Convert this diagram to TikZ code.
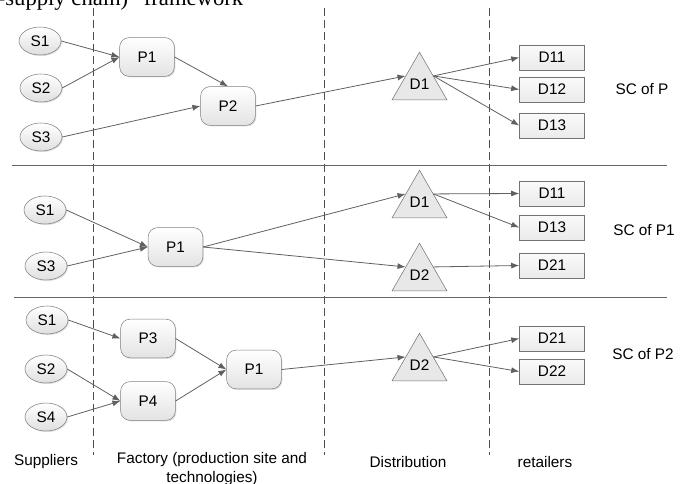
\documentclass[tikz,border=0pt]{standalone}
\usepackage{fontspec}
\setmainfont{Liberation Sans}
\newfontfamily\captionserif{Liberation Serif}
\usepackage{tikz}
\usetikzlibrary{arrows.meta,shapes.geometric,shadows}
\tikzset{
    line color/.style={gray!75!black},
    soft shadow/.style={drop shadow={shadow xshift=.8pt,shadow yshift=-.8pt,opacity=.25}},
    supplier/.style={ellipse,draw=gray,top color=white,bottom color=gray!25,soft shadow,minimum width=31.5pt,minimum height=21pt,inner sep=0pt},
    plant/.style={rectangle,rounded corners=7pt,draw=gray,top color=white,bottom color=gray!22,soft shadow,minimum width=41pt,minimum height=29pt,inner sep=0pt},
    depot/.style={regular polygon,regular polygon sides=3,draw=gray!90!black,fill=gray!18,minimum size=47.6pt,inner sep=0pt},
    retailer/.style={rectangle,draw=gray!90!black,top color=gray!4,bottom color=gray!16,minimum width=48.75pt,minimum height=18.75pt,inner sep=0pt},
    arr/.style={-{Latex[length=6pt,width=4.5pt]},line color,semithick},
    column line/.style={dashed,dash pattern=on 6pt off 3pt,gray!60!black,thin},
    band line/.style={gray!80!black,thin},
}
\tikzstyle{every node}=[font=\fontsize{11.5}{14}\selectfont]

\begin{document}
\begin{tikzpicture}[x=0.75pt,y=-0.75pt]
    \clip (0,0) rectangle (692,484);
    \node[anchor=base east,font=\captionserif\fontsize{17}{20}\selectfont] (caption) at (248,6) {-supply chain)” framework};

    % columns and bands
    \foreach \xc in {93,324,489} \draw[column line] (\xc,8) -- (\xc,455);
    \draw[band line] (12,165) -- (667,165);
    \draw[band line] (14,297) -- (667,297);

    % SC of P
    \node[supplier] (topS1) at (40,41) {S1};
    \node[supplier] (topS2) at (41,88) {S2};
    \node[supplier] (topS3) at (41,137) {S3};
    \node[plant] (topP1) at (147,57) {P1};
    \node[plant] (topP2) at (228,106) {P2};
    \node[depot] (topD1) at (419.5,84) {D1};
    \node[retailer] (topD11) at (552,57.5) {D11};
    \node[retailer] (topD12) at (552,89.5) {D12};
    \node[retailer] (topD13) at (552,125.5) {D13};
    \node (topSC) at (642,89) {SC of P};
    \draw[arr] (topS1.east) -- (topP1.west);
    \draw[arr] (topS2.east) -- (topP1.west);
    \draw[arr] (topS3.east) -- (topP2.west);
    \draw[arr] (topP1.east) -- (topP2.north);
    \draw[arr] (topP2.east) -- (topD1.side 1);
    \foreach \r in {topD11,topD12,topD13} \draw[arr] (topD1.side 3) -- (\r.west);

    % SC of P1
    \node[supplier] (midS1) at (45,210) {S1};
    \node[supplier] (midS3) at (46,266) {S3};
    \node[plant] (midP1) at (175.5,247) {P1};
    \node[depot] (midD1) at (419.5,202) {D1};
    \node[depot] (midD2) at (419.5,275) {D2};
    \node[retailer] (midD11) at (552,193.5) {D11};
    \node[retailer] (midD13) at (552,227.5) {D13};
    \node[retailer] (midD21) at (552,265.5) {D21};
    \node (midSC) at (644,230) {SC of P1};
    \draw[arr] (midS1.east) -- (midP1.west);
    \draw[arr] (midS3.east) -- (midP1.west);
    \draw[arr] (midP1.east) -- (midD1.side 1);
    \draw[arr] (midP1.east) -- (midD2.side 1);
    \draw[arr] (midD1.side 3) -- (midD11.west);
    \draw[arr] (midD1.side 3) -- (midD13.west);
    \draw[arr] (midD2.side 3) -- (midD21.west);

    % SC of P2
    \node[supplier] (botS1) at (47,320) {S1};
    \node[supplier] (botS2) at (46,369) {S2};
    \node[supplier] (botS4) at (46,417) {S4};
    \node[plant] (botP3) at (148,338.5) {P3};
    \node[plant] (botP4) at (148,401) {P4};
    \node[plant] (botP1) at (254,369.5) {P1};
    \node[depot] (botD2) at (419.5,365) {D2};
    \node[retailer] (botD21) at (552,338.5) {D21};
    \node[retailer] (botD22) at (552,371.5) {D22};
    \node (botSC) at (643,354) {SC of P2};
    \draw[arr] (botS1.east) -- (botP3.west);
    \draw[arr] (botS2.east) -- (botP4.west);
    \draw[arr] (botS4.east) -- (botP4.west);
    \draw[arr] (botP3.east) -- (botP1.west);
    \draw[arr] (botP4.east) -- (botP1.west);
    \draw[arr] (botP1.east) -- (botD2.side 1);
    \draw[arr] (botD2.side 3) -- (botD21.west);
    \draw[arr] (botD2.side 3) -- (botD22.west);

    % column titles
    \node (suppliers) at (46,462) {Suppliers};
    \node[align=center] (factory) at (212,469) {Factory (production site and\\technologies)};
    \node (distribution) at (408,462) {Distribution};
    \node (retailers) at (545,462) {retailers};
\end{tikzpicture}
\end{document}
